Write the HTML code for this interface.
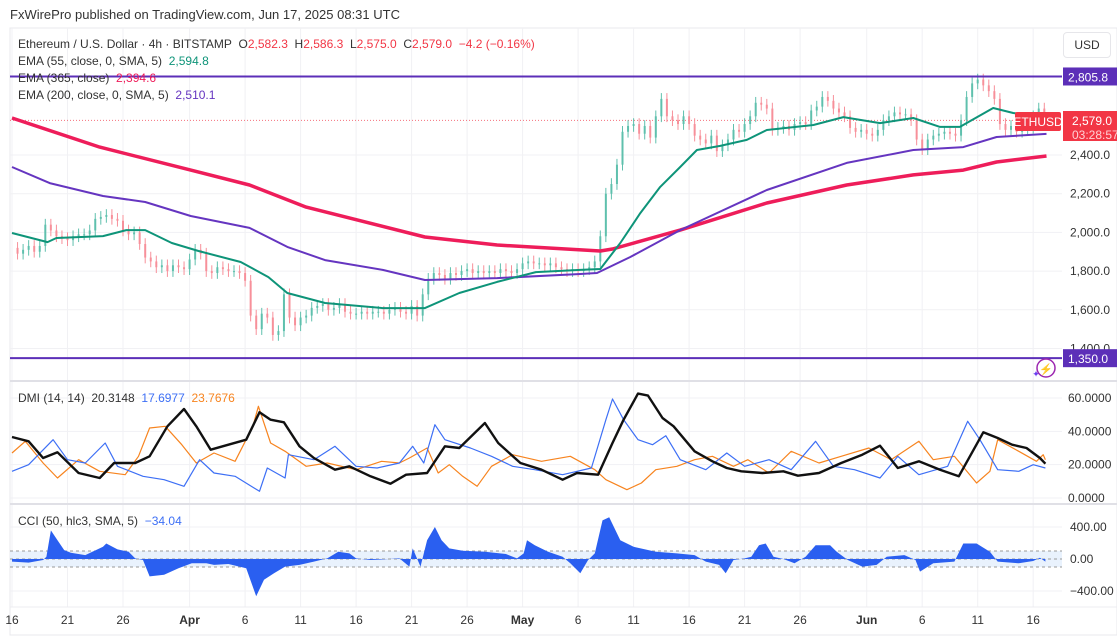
<!DOCTYPE html>
<html><head><meta charset="utf-8"><style>
body{margin:0;background:#fff;font-family:"Liberation Sans",sans-serif;}
#wrap{position:relative;width:1117px;height:641px;overflow:hidden;background:#fff;}
svg text{font-family:"Liberation Sans",sans-serif;}
</style></head><body>
<div id="wrap">
<svg id="chart" width="1117" height="641"></svg>
</div>
<script>
// ---------- DATA ----------
const closes12h = [1920,1890,1910,1930,1900,1930,2040,2010,1980,1970,1960,1980,1990,1990,2010,2070,2080,2090,2070,2060,2010,1990,2000,1940,1870,1850,1820,1830,1800,1830,1820,1810,
1860,1910,1890,1800,1790,1820,1810,1800,1800,1790,1750,1570,1500,1580,1560,1470,1490,1680,1560,1520,1560,1570,1610,1620,1630,1600,1610,1630,1590,1580,1580,1590,1580,1590,1590,1580,1600,1610,1590,1580,1620,1570,1680,1760,1790,1780,1760,1790,1780,1800,1810,1790,1800,1790,1800,1790,1810,1800,1790,1810,
1840,1850,1840,1840,1830,1840,1820,1810,1800,1810,1800,1810,1820,1850,1980,2200,2250,2350,2520,2550,2560,2510,2550,2490,2600,2690,2600,2580,2560,2600,2560,2500,2480,2460,2500,2420,2450,2480,2530,2520,2560,2600,2670,2660,2640,2530,2540,2550,2530,2560,2570,2560,2630,2650,2700,2680,2640,2620,2600,2540,2520,2530,
2510,2500,2530,2580,2600,2620,2610,2610,2580,2480,2430,2480,2500,2510,2520,2510,2500,2580,2700,2770,2790,2760,2730,2690,2560,2530,2550,2520,2530,2540,2600,2640,2579];
const ema365Days = [0,7.9,16.1,21.4,26.5,37.2,43.7,53,54.1,60.2,68,75.2,81.2,85.7,88.7,93.2];
const ema365Vals = [2591,2441,2322,2245,2131,1976,1935,1904,1914,2012,2152,2245,2297,2322,2364,2395];
const ema200Days = [0,3.4,8.2,12,16.1,21.4,24.8,28.2,33.4,37.2,43.7,51.2,52.7,55.7,60.2,68,75.2,81.2,85.7,88.7,93.2];
const ema200Vals = [2338,2255,2188,2157,2085,2023,1925,1857,1806,1754,1764,1785,1790,1873,2012,2219,2359,2426,2441,2493,2509];
const ema55Days = [0,3.2,4,8.2,10.3,12,14.4,16.8,20.6,23.1,24.8,28.2,33.4,37.2,40.3,43.7,47.2,51.2,53,54.8,56.6,58.4,60.2,61.7,63.8,66.2,68,72.2,74.9,78.2,81.2,83.6,85.4,88.4,90.2,93.2];
const ema55Vals = [1997,1950,1971,1981,2012,2012,1945,1904,1847,1769,1687,1635,1609,1609,1687,1744,1795,1806,1811,1945,2100,2235,2338,2426,2447,2478,2529,2555,2596,2565,2591,2545,2545,2643,2617,2596];
const adxDays = [0,1.5,2.8,4.1,6,7.9,9.2,11.1,12.4,14,15.5,16.6,17.9,19.5,21.1,22.3,23.3,24.5,25.9,27.2,29.1,30.4,32.3,34.1,35.5,37.4,39,40.3,42.6,43.8,45.8,47.7,49.6,50.9,52.8,54.1,55.1,56.4,57.3,58.6,59.6,61.5,63.1,64.4,65.7,67.6,69.5,70.8,72.7,74.7,76.6,78.2,79.8,81.7,83.6,85.3,87.5,88.8,90.1,91.4,92.6,93.1];
const adxVals = [36.6,34,24,27.4,15,12,21,21,25,43,53.4,43,29,32,35,51.4,47,45.4,31,24,17,19,13,8.6,14,15,31,30,45,33,21,17,11,15,14,33,47,62.6,61.4,48,43,28,22,18,16,15,16,13.4,15,21,26,31.4,18,22,17,13,39.4,36,32,30,24,20.6];
const plusDiDays = [0,1.5,3.7,5,6.6,8.4,9.5,11.8,13.7,15.5,16.9,18.2,20.1,22.3,23,24.6,24.9,27.2,29.1,31,32.9,34.9,36.1,37.1,38.1,39,41.3,43.2,45.1,47.1,49.6,52.2,53.5,54.1,55.1,56.4,57.7,58.9,60.2,62.5,64.4,66,68.2,70.2,72.4,74,75.9,78.2,79.8,81.7,84.3,86.1,87.2,88.8,90.7,92,93.1];
const plusDiVals = [16,20,35,23,21,33,19,13,11,7,23,15,13,4,18,12,26,23,31,19,18,21,31,21,44,35,30,25,19,17,14,18,47,59.4,47,35,32,37.4,23,17,27,19,23,17,34,19,17,12,25,14,19,46,35,17,16,20,18];
const minusDiDays = [0,1.2,2.8,4.1,6,7.9,10.2,11.4,12.4,13.8,15.3,16.6,18.2,20.1,21.7,22.2,23.3,24.6,26.5,28.4,31,33.3,34.9,35.8,37.4,38.4,39.4,40.6,41.9,43.2,45.1,47.7,50.3,52.5,53.5,55.4,56.7,58,59.9,61.5,63.1,65,66.3,68.2,70.2,72.7,74.7,77.2,79.2,81.7,83,84.9,86.9,88.1,88.8,90.7,92.3,92.9,93.1];
const minusDiVals = [27,34,21,12,23,16,14,25,42,43,32,21,27,22,43,55,33,28,19,21,17,22,21,24,30,15,20,13,7,19,26,22,25,17,11,5,9,17,19,23,25,19,23,15,28,21,25,30,23,34,23,25,9,16,35,28,22,26,23];
const cciDays = [0,1.5,2.8,3.1,3.5,4.1,4.7,5.3,6.6,8.2,8.5,9.5,10.5,11.1,11.8,12.4,13.7,15,16.2,17.5,18.2,19.5,21.1,22,22.7,23.6,24.6,25.9,27.2,28.4,29.4,30.4,31,32.3,33.6,34.9,35.8,36.1,36.8,37.4,38.1,38.7,39.4,40.6,42.6,44.5,45.5,46.1,46.4,47.1,48.3,49.6,50.3,51.2,51.9,52.5,53.2,53.8,54.8,56,58,59.9,61.5,62.5,63.7,64.3,65,66,66.6,67.3,67.9,68.6,69.5,70.5,71.5,72.4,73.7,74.3,75.3,76.6,77.9,78.8,80.4,81.4,81.8,83,84.9,85.7,86.9,88.1,88.8,90.7,92,92.6,93.1];
const cciVals = [-33,-45,-12,29,358,235,111,78,49,152,194,120,91,8,-12,-218,-198,-115,-54,-54,-74,-62,-115,-466,-260,-177,-95,-74,-33,8,91,70,8,-12,-4,8,-95,132,-95,235,400,235,132,103,91,62,8,70,235,173,91,29,-54,-177,-12,70,482,523,235,152,91,70,49,-33,-74,-177,-12,8,29,173,194,29,0,-54,29,173,173,91,-12,-95,-74,29,49,-12,-157,-54,-33,194,194,91,-33,-54,-25,16,-33];
const priceTicks = [2400,2200,2000,1800,1600,1400];
const dmiTicks = [60,40,20,0];
const cciTicks = [400,0,-400];
const dateLabels = ["16","21","26","Apr","6","11","16","21","26","May","6","11","16","21","26","Jun","6","11","16"];
const dateDays = [0,5,10,16,21,26,31,36,41,46,51,56,61,66,71,77,82,87,92];
const levelLines = [2805.8,1350.0];

// ---------- SCALES ----------
const X0=12, PX_DAY=11.1, PLOT_R=1062;
const xDay = d => X0 + d*PX_DAY;
const yPrice = p => 155 - (p-2400)*0.1935;
const yDmi = v => 498 - v*1.667;
const yCci = v => 559 - v*0.08;

const svg = document.getElementById('chart');
const NS = 'http://www.w3.org/2000/svg';
function mk(tag, attrs, parent){const e=document.createElementNS(NS,tag);for(const k in attrs)e.setAttribute(k,attrs[k]);(parent||svg).appendChild(e);return e;}
function txt(x,y,s,fill,size,anchor,parent){const t=mk('text',{x:x,y:y,fill:fill,'font-size':size,'text-anchor':anchor||'start'},parent);t.textContent=s;return t;}

const grid = mk('g',{});


mk('rect',{x:10,y:28,width:1107,height:607,fill:'none',stroke:'#e8e8ec'},grid);
dateDays.forEach(d=>mk('line',{x1:xDay(d),x2:xDay(d),y1:28,y2:607,stroke:'#f1f1f4'},grid));
priceTicks.forEach(p=>mk('line',{x1:10,x2:PLOT_R,y1:yPrice(p),y2:yPrice(p),stroke:'#f1f1f4'},grid));
dmiTicks.forEach(v=>mk('line',{x1:10,x2:PLOT_R,y1:yDmi(v),y2:yDmi(v),stroke:'#f1f1f4'},grid));
cciTicks.forEach(v=>mk('line',{x1:10,x2:PLOT_R,y1:yCci(v),y2:yCci(v),stroke:'#f1f1f4'},grid));
mk('line',{x1:10,x2:1117,y1:381,y2:381,stroke:'#e0e0e6','stroke-width':2},grid);
mk('line',{x1:10,x2:1117,y1:504,y2:504,stroke:'#e0e0e6','stroke-width':2},grid);
mk('line',{x1:10,x2:1117,y1:607,y2:607,stroke:'#ececf0'},grid);

const pAxis = mk('g',{});


priceTicks.forEach(p=>txt(1070,yPrice(p)+4,p.toLocaleString('en-US',{minimumFractionDigits:1}),'#333',12,'start',pAxis));
dmiTicks.forEach(v=>txt(1068,yDmi(v)+4,v.toFixed(4),'#333',12,'start',pAxis));
cciTicks.forEach(v=>txt(1070,yCci(v)+4,v.toFixed(2).replace('-','\u2212'),'#333',12,'start',pAxis));

const dAxis = mk('g',{});


dateLabels.forEach((s,i)=>{const t=txt(xDay(dateDays[i]),624,s,'#333',12,'middle',dAxis); if(isNaN(+s)) t.setAttribute('font-weight','bold');});

const last = closes12h[closes12h.length-1];
mk('line',{x1:10,x2:PLOT_R,y1:yPrice(last),y2:yPrice(last),stroke:'#f23645','stroke-dasharray':'1 2','stroke-width':1,opacity:0.7});

const cg = mk('g',{});


for(let i=1;i<closes12h.length;i++){
  const o=closes12h[i-1], c=closes12h[i];
  const up=c>=o, col=up?'#5fc0ad':'#f7909a';
  const x=xDay(i*0.5);
  const hi=Math.max(o,c)+30, lo=Math.min(o,c)-30;
  const w=mk('line',{x1:x,x2:x,y1:yPrice(hi),y2:yPrice(lo),stroke:col,'stroke-width':1},cg);
  
  
  const r=mk('rect',{x:x-1,y:Math.min(yPrice(o),yPrice(c)),width:2,height:Math.max(1,Math.abs(yPrice(o)-yPrice(c))),fill:col},cg);
  
  
}

function line(days,vals,yf,color,w,name){
  const pts=days.map((d,i)=>xDay(d).toFixed(1)+','+yf(vals[i]).toFixed(1)).join(' ');
  const p=mk('polyline',{points:pts,fill:'none',stroke:color,'stroke-width':w,'stroke-linejoin':'round'});
  
  
  return p;
}
line(ema365Days,ema365Vals,yPrice,'#ee1d5a',3.5,'ema-365-line');
line(ema200Days,ema200Vals,yPrice,'#6535c0',2,'ema-200-line');
line(ema55Days,ema55Vals,yPrice,'#0e9479',2,'ema-55-line');

levelLines.forEach((v,i)=>{
  const l=mk('line',{x1:10,x2:1062,y1:yPrice(v),y2:yPrice(v),stroke:'#5c2fb8','stroke-width':2});
  
  
  const g=mk('g',{});
  
  
  mk('rect',{x:1063,y:yPrice(v)-9,width:54,height:18,fill:'#5c2fb8'},g);
  txt(1068,yPrice(v)+5,v.toLocaleString('en-US',{minimumFractionDigits:1}),'#fff',12,'start',g);
});

line(minusDiDays,minusDiVals,yDmi,'#f7841f',1.2,'dmi-minus-di-line');
line(plusDiDays,plusDiVals,yDmi,'#3d6ff5',1.2,'dmi-plus-di-line');
line(adxDays,adxVals,yDmi,'#111',2.4,'dmi-adx-line');

const band=mk('rect',{x:10,y:yCci(100),width:1052,height:yCci(-100)-yCci(100),fill:'#e3effd',opacity:0.8});


[100,0,-100].forEach(v=>mk('line',{x1:10,x2:1062,y1:yCci(v),y2:yCci(v),stroke:'#999','stroke-dasharray':'3 3'}));
let cpts=xDay(cciDays[0]).toFixed(1)+','+yCci(0);
cciDays.forEach((d,i)=>{cpts+=' '+xDay(d).toFixed(1)+','+yCci(cciVals[i]).toFixed(1);});
cpts+=' '+xDay(cciDays[cciDays.length-1]).toFixed(1)+','+yCci(0);
const cp=mk('polygon',{points:cpts,fill:'#2a5ff0'});



const tag=mk('g',{});


mk('rect',{x:1015,y:112,width:46,height:19,rx:2,fill:'#f23645'},tag);
txt(1038,126,'ETHUSD','#fff',12,'middle',tag);
mk('rect',{x:1063,y:111,width:54,height:30,fill:'#f23645'},tag);
txt(1072,125,last.toLocaleString('en-US',{minimumFractionDigits:1}),'#fff',12,'start',tag);
txt(1072,139,'03:28:57','#ffd0d4',12,'start',tag);

const logo=mk('g',{});


mk('circle',{cx:1046,cy:368,r:9,fill:'#fff',stroke:'#9c27b0','stroke-width':1.5},logo);
txt(1046,373,'⚡','#9c27b0',11,'middle',logo);
txt(1036,377,'✦','#6a3df0',9,'middle',logo);
</script>
<div style="position:absolute;left:10px;top:7px;font-size:13px;color:#333">FxWirePro published on TradingView.com, Jun 17, 2025 08:31 UTC</div>
<div style="position:absolute;left:18px;top:36px;font-size:12px;color:#333;line-height:17px">
<div>Ethereum / U.S. Dollar · 4h · BITSTAMP&nbsp; O<span style="color:#f23645">2,582.3</span>&nbsp; H<span style="color:#f23645">2,586.3</span>&nbsp; L<span style="color:#f23645">2,575.0</span>&nbsp; C<span style="color:#f23645">2,579.0&nbsp; −4.2 (−0.16%)</span></div>
<div>EMA (55, close, 0, SMA, 5)&nbsp; <span style="color:#0e9479">2,594.8</span></div>
<div>EMA (365, close)&nbsp; <span style="color:#ee1d5a">2,394.6</span></div>
<div>EMA (200, close, 0, SMA, 5)&nbsp; <span style="color:#6535c0">2,510.1</span></div>
</div>
<div style="position:absolute;left:1063px;top:32px;width:46px;height:24px;border:1px solid #e6e6ea;border-radius:4px;font-size:12px;color:#333;line-height:24px;text-align:center;background:#fff">USD</div>
<div style="position:absolute;left:18px;top:391px;font-size:12px;color:#333">DMI (14, 14)&nbsp; 20.3148&nbsp; <span style="color:#3d6ff5">17.6977</span>&nbsp; <span style="color:#f7841f">23.7676</span></div>
<div style="position:absolute;left:18px;top:514px;font-size:12px;color:#333">CCI (50, hlc3, SMA, 5)&nbsp; <span style="color:#3d6ff5">−34.04</span></div>
</body></html>
